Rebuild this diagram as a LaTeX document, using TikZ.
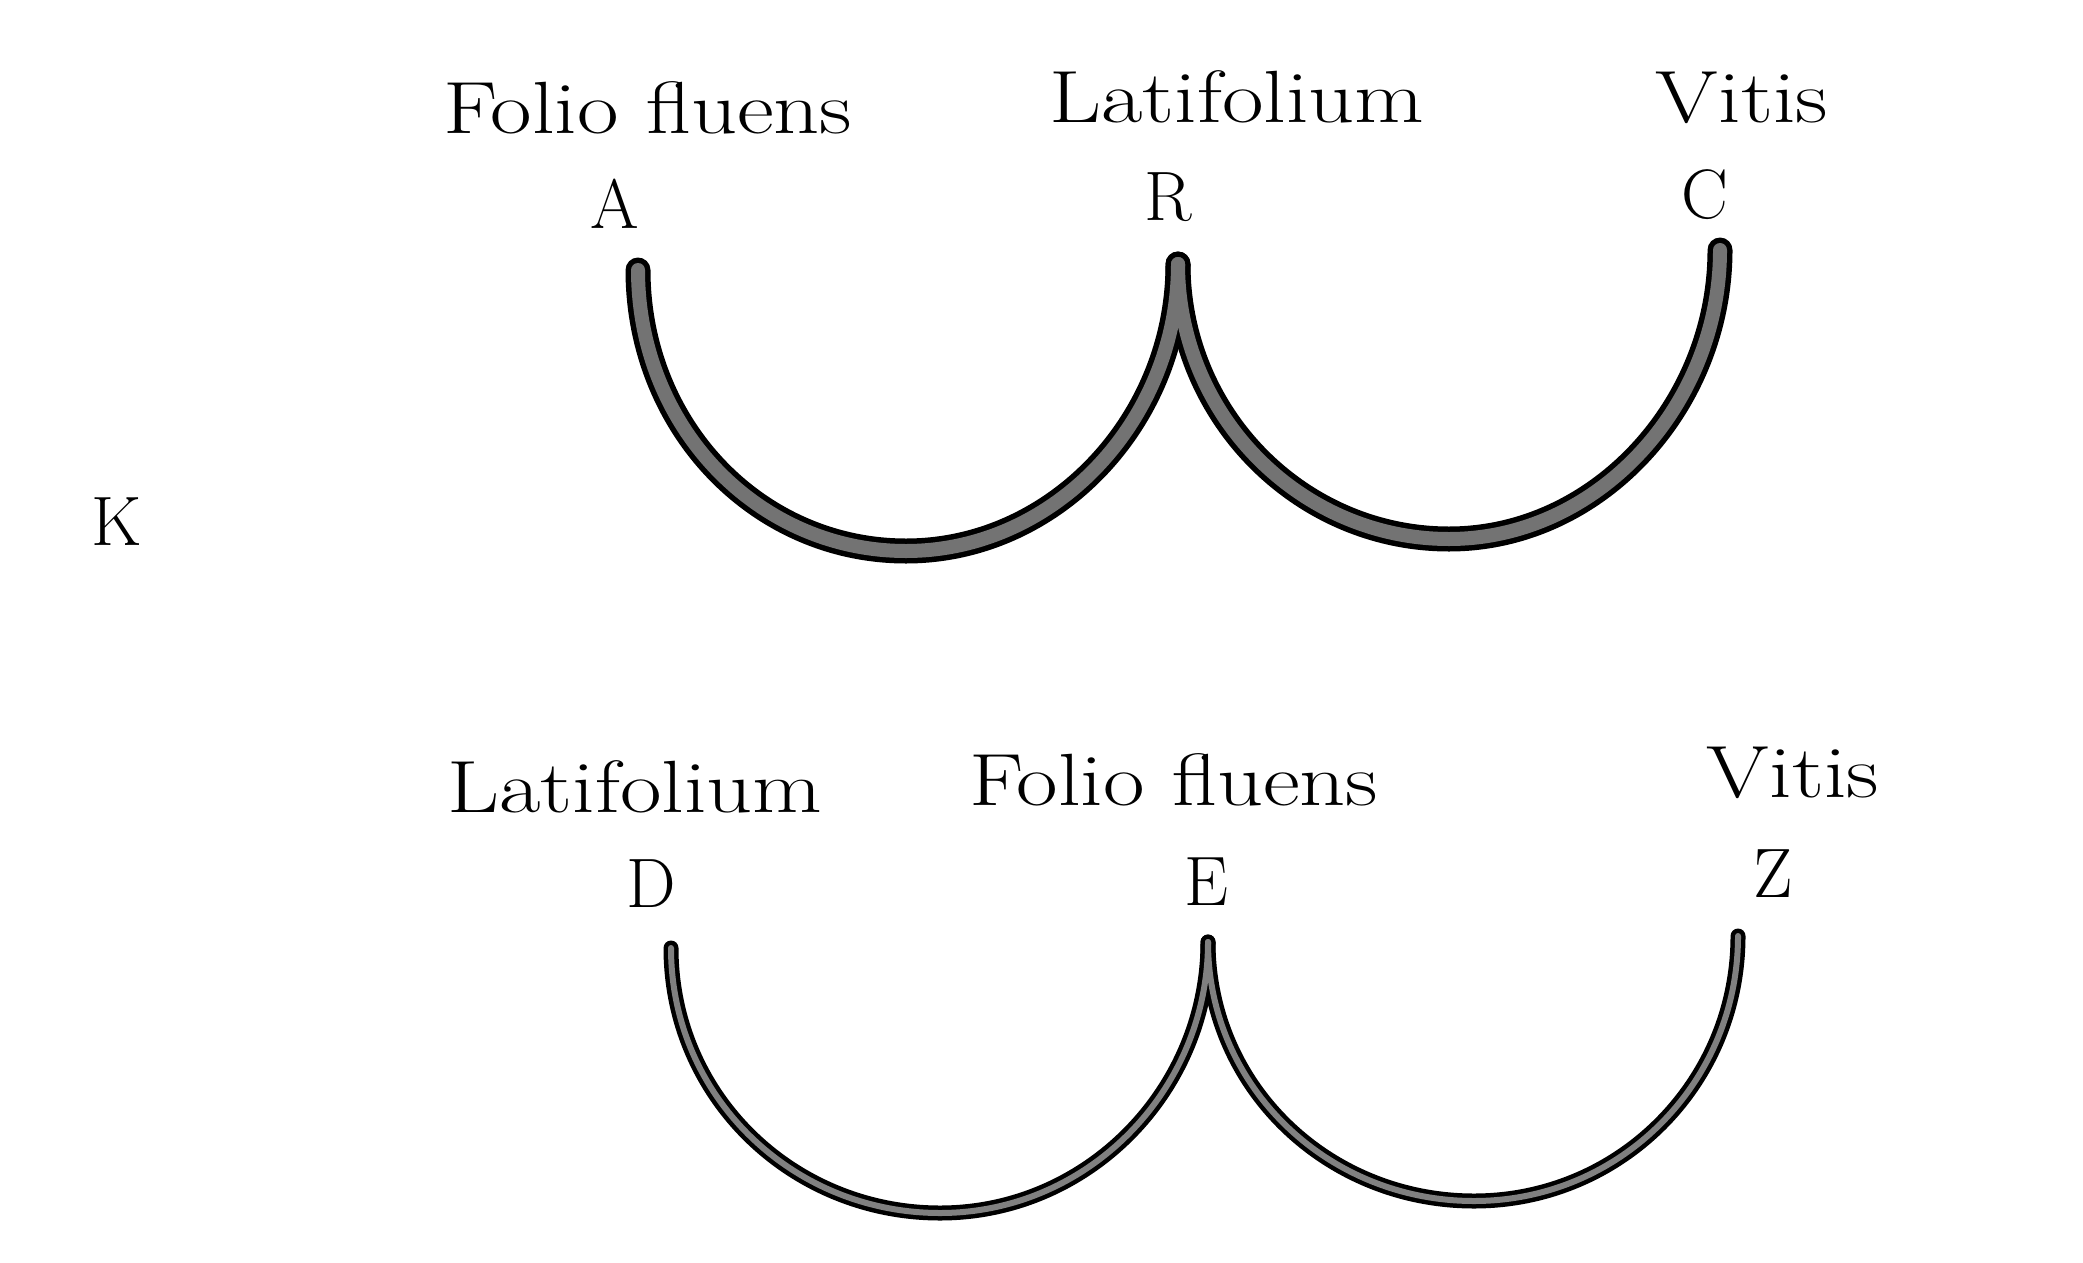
\documentclass[tikz,border=0pt]{standalone}
\usepackage{fontspec}
\setmainfont{Latin Modern Roman}
\newfontfamily\widefont[FakeStretch=1.22]{Latin Modern Roman}
\begin{document}
\begin{tikzpicture}[x=1pt,y=-1pt,
  lbl/.style={anchor=base,inner sep=0pt,font=\widefont\fontsize{74}{80}\selectfont},
  ltr/.style={anchor=base,inner sep=0pt,font=\fontsize{70}{76}\selectfont},
  arcouter/.style={line width=25pt,black,line cap=round},
  arcinner/.style={line width=14pt,black!55,line cap=round},
  thinouter/.style={line width=15pt,black,line cap=round},
  thininner/.style={line width=6pt,black!50,line cap=round}]
\useasboundingbox[fill=white] (0,0) rectangle (2083,1263);
% labels top
\node[lbl] (wA) at (648,133) {Folio fluens};
\node[lbl] (wR) at (1237,122) {Latifolium};
\node[lbl] (wC) at (1742,122) {Vitis};
\node[ltr] (A) at (615,228) {A};
\node[ltr] (R) at (1168,220) {R};
\node[ltr] (C) at (1705,218) {C};
% K
\node[ltr] (K) at (117,545) {K};
% labels bottom
\node[lbl] (wD) at (635,812) {Latifolium};
\node[lbl] (wE) at (1174,805) {Folio fluens};
\node[lbl] (wZ) at (1793,797) {Vitis};
\node[ltr] (D) at (651,907) {D};
\node[ltr] (E) at (1206,905) {E};
\node[ltr] (Z) at (1773,897) {Z};
% arc endpoints
\coordinate (tA) at (638,270);
\coordinate (tR) at (1178,264);
\coordinate (tC) at (1720,250);
\coordinate (bAR) at (906,551);
\coordinate (bRC) at (1449,539);
\coordinate (tD) at (671,948);
\coordinate (tE) at (1208,942);
\coordinate (tZ) at (1738,936);
\coordinate (bDE) at (940,1213);
\coordinate (bEZ) at (1474,1201);
% top arcs
\foreach \s in {arcouter,arcinner}{
\draw[\s] (tA) .. controls (638,426) and (757,551) .. (bAR)
  .. controls (1055,551) and (1178,420) .. (tR);
\draw[\s] (tR) .. controls (1178,415) and (1300,539) .. (bRC)
  .. controls (1598,539) and (1720,405) .. (tC);
}
% bottom arcs
\foreach \s in {thinouter,thininner}{
\draw[\s] (tD) .. controls (671,1096) and (792,1213) .. (bDE)
  .. controls (1088,1213) and (1208,1090) .. (tE);
\draw[\s] (tE) .. controls (1208,1086) and (1327,1201) .. (bEZ)
  .. controls (1620,1201) and (1738,1083) .. (tZ);
}
\end{tikzpicture}
\end{document}
